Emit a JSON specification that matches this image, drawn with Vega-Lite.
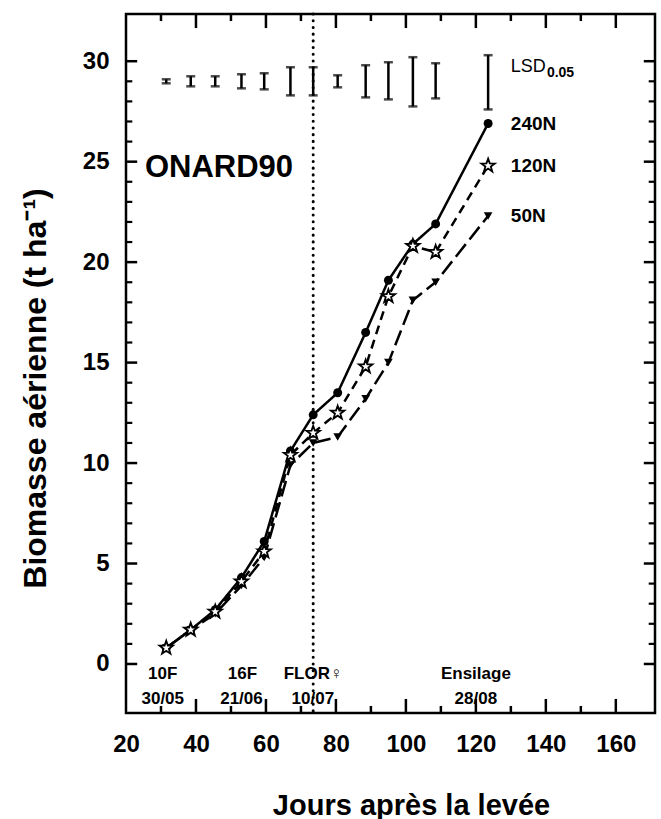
{
  "$schema": "https://vega.github.io/schema/vega-lite/v6.json",
  "width": 529,
  "height": 699,
  "autosize": {"type": "none"},
  "padding": {"left": 126, "top": 14, "right": 6, "bottom": 106},
  "background": "white",
  "config": {"font": "Liberation Sans", "view": {"stroke": "black", "strokeWidth": 2.5}},
  "datasets": {
    "series": [
      {"series": "240N", "day": 31.5, "v": 0.8},
      {"series": "240N", "day": 38.5, "v": 1.7},
      {"series": "240N", "day": 45.5, "v": 2.7},
      {"series": "240N", "day": 53, "v": 4.3},
      {"series": "240N", "day": 59.5, "v": 6.1},
      {"series": "240N", "day": 67, "v": 10.6},
      {"series": "240N", "day": 73.5, "v": 12.4},
      {"series": "240N", "day": 80.5, "v": 13.5},
      {"series": "240N", "day": 88.5, "v": 16.5},
      {"series": "240N", "day": 95, "v": 19.1},
      {"series": "240N", "day": 102, "v": 20.9},
      {"series": "240N", "day": 108.5, "v": 21.9},
      {"series": "240N", "day": 123.5, "v": 26.9},
      {"series": "120N", "day": 31.5, "v": 0.8},
      {"series": "120N", "day": 38.5, "v": 1.7},
      {"series": "120N", "day": 45.5, "v": 2.6},
      {"series": "120N", "day": 53, "v": 4.1},
      {"series": "120N", "day": 59.5, "v": 5.6},
      {"series": "120N", "day": 67, "v": 10.4},
      {"series": "120N", "day": 73.5, "v": 11.5},
      {"series": "120N", "day": 80.5, "v": 12.5},
      {"series": "120N", "day": 88.5, "v": 14.8},
      {"series": "120N", "day": 95, "v": 18.3},
      {"series": "120N", "day": 102, "v": 20.8},
      {"series": "120N", "day": 108.5, "v": 20.5},
      {"series": "120N", "day": 123.5, "v": 24.8},
      {"series": "50N", "day": 31.5, "v": 0.8},
      {"series": "50N", "day": 38.5, "v": 1.7},
      {"series": "50N", "day": 45.5, "v": 2.5},
      {"series": "50N", "day": 53, "v": 3.9},
      {"series": "50N", "day": 59.5, "v": 5.3},
      {"series": "50N", "day": 67, "v": 9.9},
      {"series": "50N", "day": 73.5, "v": 11.0},
      {"series": "50N", "day": 80.5, "v": 11.3},
      {"series": "50N", "day": 88.5, "v": 13.2},
      {"series": "50N", "day": 95, "v": 15.0},
      {"series": "50N", "day": 102, "v": 18.1},
      {"series": "50N", "day": 108.5, "v": 19.0},
      {"series": "50N", "day": 123.5, "v": 22.3}
    ],
    "errs": [
      {"day": 31.5, "v": 28.9, "v2": 29.1},
      {"day": 38.5, "v": 28.75, "v2": 29.25},
      {"day": 45.5, "v": 28.75, "v2": 29.25},
      {"day": 53, "v": 28.65, "v2": 29.35},
      {"day": 59.5, "v": 28.6, "v2": 29.4},
      {"day": 67, "v": 28.3, "v2": 29.7},
      {"day": 73.5, "v": 28.3, "v2": 29.7},
      {"day": 80.5, "v": 28.7, "v2": 29.3},
      {"day": 88.5, "v": 28.2, "v2": 29.8},
      {"day": 95, "v": 28.1, "v2": 29.95},
      {"day": 102, "v": 27.75, "v2": 30.2},
      {"day": 108.5, "v": 28.15, "v2": 29.9},
      {"day": 123.5, "v": 27.6, "v2": 30.3}
    ],
    "xmaj": [{"t": 40}, {"t": 60}, {"t": 80}, {"t": 100}, {"t": 120}, {"t": 140}, {"t": 160}],
    "xmin": [{"t": 30}, {"t": 50}, {"t": 70}, {"t": 90}, {"t": 110}, {"t": 130}, {"t": 150}],
    "ymaj": [{"t": 0}, {"t": 5}, {"t": 10}, {"t": 15}, {"t": 20}, {"t": 25}, {"t": 30}],
    "ymin": [{"t": 1}, {"t": 2}, {"t": 3}, {"t": 4}, {"t": 6}, {"t": 7}, {"t": 8}, {"t": 9}, {"t": 11}, {"t": 12}, {"t": 13}, {"t": 14}, {"t": 16}, {"t": 17}, {"t": 18}, {"t": 19}, {"t": 21}, {"t": 22}, {"t": 23}, {"t": 24}, {"t": 26}, {"t": 27}, {"t": 28}, {"t": 29}],
    "flor": [{"day": 73.5}],
    "serieslabels": [
      {"day": 130, "v": 26.9, "label": "240N"},
      {"day": 130, "v": 24.8, "label": "120N"},
      {"day": 130, "v": 22.3, "label": "50N"}
    ],
    "lsd": [{"day": 130, "v": 29.7, "label": "LSD"}],
    "sub": [{"day": 140.3, "v": 29.4, "label": "0.05"}],
    "site": [{"day": 25.4, "v": 24.7, "label": "ONARD90"}],
    "stages": [
      {"day": 30.5, "v": -0.52, "label": "10F"},
      {"day": 30.5, "v": -1.72, "label": "30/05"},
      {"day": 53.3, "v": -0.52, "label": "16F"},
      {"day": 53, "v": -1.72, "label": "21/06"},
      {"day": 73.5, "v": -0.52, "label": "FLOR♀"},
      {"day": 73.4, "v": -1.72, "label": "10/07"},
      {"day": 120, "v": -0.52, "label": "Ensilage"},
      {"day": 120, "v": -1.72, "label": "28/08"}
    ]
  },
  "layer": [
    {
      "data": {"name": "series"},
      "mark": {"type": "line", "color": "black", "strokeWidth": 2.5},
      "encoding": {
        "x": {
          "field": "day", "type": "quantitative",
          "scale": {"domain": [20, 171.2], "nice": false, "zero": false},
          "axis": {
            "orient": "bottom",
            "values": [20, 40, 60, 80, 100, 120, 140, 160],
            "ticks": false, "domain": false, "grid": false,
            "labelFont": "Liberation Sans", "labelFontSize": 24, "labelFontWeight": "bold", "labelColor": "black",
            "labelPadding": 19.5, "labelOverlap": false, "labelFlush": false, "labelBound": false,
            "title": "Jours après la levée",
            "titleFont": "Liberation Sans", "titleFontSize": 29, "titleFontWeight": "bold", "titleColor": "black",
            "titleX": 285, "titleY": 92, "titleAlign": "center", "titleBaseline": "middle"
          }
        },
        "y": {
          "field": "v", "type": "quantitative",
          "scale": {"domain": [-2.44, 32.35], "nice": false, "zero": false},
          "axis": {
            "orient": "left",
            "values": [0, 5, 10, 15, 20, 25, 30],
            "ticks": false, "domain": false, "grid": false,
            "labelFont": "Liberation Sans", "labelFontSize": 24, "labelFontWeight": "bold", "labelColor": "black",
            "labelPadding": 17, "labelOverlap": false, "labelFlush": false, "labelBound": false,
            "title": "Biomasse aérienne (t ha⁻¹)",
            "titleFont": "Liberation Sans", "titleFontSize": 32, "titleFontWeight": "bold", "titleColor": "black",
            "titleX": -91, "titleY": 374, "titleAngle": -90, "titleAlign": "center", "titleBaseline": "middle"
          }
        },
        "detail": {"field": "series", "type": "nominal"},
        "strokeDash": {
          "field": "series", "type": "nominal",
          "scale": {"domain": ["240N", "120N", "50N"], "range": [[1, 0], [9, 6], [16, 6]]},
          "legend": null
        }
      }
    },
    {
      "data": {"name": "xmaj"},
      "mark": {"type": "rule", "strokeWidth": 2.5, "color": "black"},
      "encoding": {
        "x": {"field": "t", "type": "quantitative", "scale": {"domain": [20, 171.2], "nice": false, "zero": false}, "axis": null},
        "y": {"datum": -2.44, "type": "quantitative", "scale": {"domain": [-2.44, 32.35], "nice": false, "zero": false}, "axis": null},
        "y2": {"datum": -1.74}
      }
    },
    {
      "data": {"name": "xmaj"},
      "mark": {"type": "rule", "strokeWidth": 2.5, "color": "black"},
      "encoding": {
        "x": {"field": "t", "type": "quantitative", "scale": {"domain": [20, 171.2], "nice": false, "zero": false}, "axis": null},
        "y": {"datum": 32.35, "type": "quantitative", "scale": {"domain": [-2.44, 32.35], "nice": false, "zero": false}, "axis": null},
        "y2": {"datum": 31.65}
      }
    },
    {
      "data": {"name": "xmin"},
      "mark": {"type": "rule", "strokeWidth": 2.5, "color": "black"},
      "encoding": {
        "x": {"field": "t", "type": "quantitative", "scale": {"domain": [20, 171.2], "nice": false, "zero": false}, "axis": null},
        "y": {"datum": -2.44, "type": "quantitative", "scale": {"domain": [-2.44, 32.35], "nice": false, "zero": false}, "axis": null},
        "y2": {"datum": -2.09}
      }
    },
    {
      "data": {"name": "xmin"},
      "mark": {"type": "rule", "strokeWidth": 2.5, "color": "black"},
      "encoding": {
        "x": {"field": "t", "type": "quantitative", "scale": {"domain": [20, 171.2], "nice": false, "zero": false}, "axis": null},
        "y": {"datum": 32.35, "type": "quantitative", "scale": {"domain": [-2.44, 32.35], "nice": false, "zero": false}, "axis": null},
        "y2": {"datum": 32.0}
      }
    },
    {
      "data": {"name": "ymaj"},
      "mark": {"type": "rule", "strokeWidth": 2.5, "color": "black"},
      "encoding": {
        "x": {"datum": 20, "type": "quantitative", "scale": {"domain": [20, 171.2], "nice": false, "zero": false}, "axis": null},
        "x2": {"datum": 23.2},
        "y": {"field": "t", "type": "quantitative", "scale": {"domain": [-2.44, 32.35], "nice": false, "zero": false}, "axis": null}
      }
    },
    {
      "data": {"name": "ymaj"},
      "mark": {"type": "rule", "strokeWidth": 2.5, "color": "black"},
      "encoding": {
        "x": {"datum": 171.2, "type": "quantitative", "scale": {"domain": [20, 171.2], "nice": false, "zero": false}, "axis": null},
        "x2": {"datum": 168.0},
        "y": {"field": "t", "type": "quantitative", "scale": {"domain": [-2.44, 32.35], "nice": false, "zero": false}, "axis": null}
      }
    },
    {
      "data": {"name": "ymin"},
      "mark": {"type": "rule", "strokeWidth": 2.2, "color": "black"},
      "encoding": {
        "x": {"datum": 20, "type": "quantitative", "scale": {"domain": [20, 171.2], "nice": false, "zero": false}, "axis": null},
        "x2": {"datum": 21.8},
        "y": {"field": "t", "type": "quantitative", "scale": {"domain": [-2.44, 32.35], "nice": false, "zero": false}, "axis": null}
      }
    },
    {
      "data": {"name": "ymin"},
      "mark": {"type": "rule", "strokeWidth": 2.2, "color": "black"},
      "encoding": {
        "x": {"datum": 171.2, "type": "quantitative", "scale": {"domain": [20, 171.2], "nice": false, "zero": false}, "axis": null},
        "x2": {"datum": 169.4},
        "y": {"field": "t", "type": "quantitative", "scale": {"domain": [-2.44, 32.35], "nice": false, "zero": false}, "axis": null}
      }
    },
    {
      "data": {"name": "errs"},
      "mark": {"type": "rule", "color": "black", "strokeWidth": 2.5},
      "encoding": {
        "x": {"field": "day", "type": "quantitative", "scale": {"domain": [20, 171.2], "nice": false, "zero": false}, "axis": null},
        "y": {"field": "v", "type": "quantitative", "scale": {"domain": [-2.44, 32.35], "nice": false, "zero": false}, "axis": null},
        "y2": {"field": "v2"}
      }
    },
    {
      "data": {"name": "errs"},
      "mark": {"type": "tick", "color": "black", "orient": "horizontal", "size": 9, "thickness": 2.5},
      "encoding": {
        "x": {"field": "day", "type": "quantitative", "scale": {"domain": [20, 171.2], "nice": false, "zero": false}, "axis": null},
        "y": {"field": "v", "type": "quantitative", "scale": {"domain": [-2.44, 32.35], "nice": false, "zero": false}, "axis": null}
      }
    },
    {
      "data": {"name": "errs"},
      "mark": {"type": "tick", "color": "black", "orient": "horizontal", "size": 9, "thickness": 2.5},
      "encoding": {
        "x": {"field": "day", "type": "quantitative", "scale": {"domain": [20, 171.2], "nice": false, "zero": false}, "axis": null},
        "y": {"field": "v2", "type": "quantitative", "scale": {"domain": [-2.44, 32.35], "nice": false, "zero": false}, "axis": null}
      }
    },
    {
      "data": {"name": "flor"},
      "mark": {"type": "rule", "color": "black", "strokeWidth": 3, "strokeDash": [0.1, 6.6], "strokeCap": "round"},
      "encoding": {
        "x": {"field": "day", "type": "quantitative", "scale": {"domain": [20, 171.2], "nice": false, "zero": false}, "axis": null}
      }
    },
    {
      "data": {"name": "series"},
      "transform": [{"filter": "datum.series === '240N'"}],
      "mark": {"type": "point", "shape": "circle", "filled": true, "color": "black", "size": 80, "opacity": 1},
      "encoding": {
        "x": {"field": "day", "type": "quantitative", "scale": {"domain": [20, 171.2], "nice": false, "zero": false}, "axis": null},
        "y": {"field": "v", "type": "quantitative", "scale": {"domain": [-2.44, 32.35], "nice": false, "zero": false}, "axis": null}
      }
    },
    {
      "data": {"name": "series"},
      "transform": [{"filter": "datum.series === '50N'"}],
      "mark": {"type": "point", "shape": "triangle-down", "filled": true, "color": "black", "size": 75, "opacity": 1},
      "encoding": {
        "x": {"field": "day", "type": "quantitative", "scale": {"domain": [20, 171.2], "nice": false, "zero": false}, "axis": null},
        "y": {"field": "v", "type": "quantitative", "scale": {"domain": [-2.44, 32.35], "nice": false, "zero": false}, "axis": null}
      }
    },
    {
      "data": {"name": "series"},
      "transform": [{"filter": "datum.series === '120N'"}],
      "mark": {"type": "point", "shape": "M0,-1L0.235,-0.324L0.951,-0.309L0.38,0.124L0.588,0.809L0,0.4L-0.588,0.809L-0.38,0.124L-0.951,-0.309L-0.235,-0.324Z", "filled": true, "fill": "white", "stroke": "black", "strokeWidth": 1.8, "size": 200, "opacity": 1},
      "encoding": {
        "x": {"field": "day", "type": "quantitative", "scale": {"domain": [20, 171.2], "nice": false, "zero": false}, "axis": null},
        "y": {"field": "v", "type": "quantitative", "scale": {"domain": [-2.44, 32.35], "nice": false, "zero": false}, "axis": null}
      }
    },
    {
      "data": {"name": "serieslabels"},
      "mark": {"type": "text", "align": "left", "baseline": "middle", "font": "Liberation Sans", "fontSize": 19, "fontWeight": "bold", "color": "black"},
      "encoding": {
        "x": {"field": "day", "type": "quantitative", "scale": {"domain": [20, 171.2], "nice": false, "zero": false}, "axis": null},
        "y": {"field": "v", "type": "quantitative", "scale": {"domain": [-2.44, 32.35], "nice": false, "zero": false}, "axis": null},
        "text": {"field": "label"}
      }
    },
    {
      "data": {"name": "lsd"},
      "mark": {"type": "text", "align": "left", "baseline": "middle", "font": "Liberation Sans", "fontSize": 18, "fontWeight": "normal", "color": "black"},
      "encoding": {
        "x": {"field": "day", "type": "quantitative", "scale": {"domain": [20, 171.2], "nice": false, "zero": false}, "axis": null},
        "y": {"field": "v", "type": "quantitative", "scale": {"domain": [-2.44, 32.35], "nice": false, "zero": false}, "axis": null},
        "text": {"field": "label"}
      }
    },
    {
      "data": {"name": "sub"},
      "mark": {"type": "text", "align": "left", "baseline": "middle", "font": "Liberation Sans", "fontSize": 14, "fontWeight": "bold", "color": "black"},
      "encoding": {
        "x": {"field": "day", "type": "quantitative", "scale": {"domain": [20, 171.2], "nice": false, "zero": false}, "axis": null},
        "y": {"field": "v", "type": "quantitative", "scale": {"domain": [-2.44, 32.35], "nice": false, "zero": false}, "axis": null},
        "text": {"field": "label"}
      }
    },
    {
      "data": {"name": "site"},
      "mark": {"type": "text", "align": "left", "baseline": "middle", "font": "Liberation Sans", "fontSize": 31, "fontWeight": "bold", "color": "black"},
      "encoding": {
        "x": {"field": "day", "type": "quantitative", "scale": {"domain": [20, 171.2], "nice": false, "zero": false}, "axis": null},
        "y": {"field": "v", "type": "quantitative", "scale": {"domain": [-2.44, 32.35], "nice": false, "zero": false}, "axis": null},
        "text": {"field": "label"}
      }
    },
    {
      "data": {"name": "stages"},
      "mark": {"type": "text", "align": "center", "baseline": "middle", "font": "Liberation Sans", "fontSize": 17, "fontWeight": "bold", "color": "black"},
      "encoding": {
        "x": {"field": "day", "type": "quantitative", "scale": {"domain": [20, 171.2], "nice": false, "zero": false}, "axis": null},
        "y": {"field": "v", "type": "quantitative", "scale": {"domain": [-2.44, 32.35], "nice": false, "zero": false}, "axis": null},
        "text": {"field": "label"}
      }
    }
  ],
  "resolve": {"axis": {"x": "independent", "y": "independent"}}
}
